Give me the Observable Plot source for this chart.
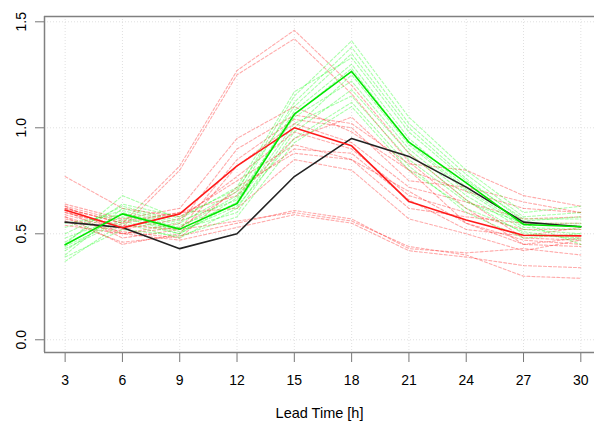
<!DOCTYPE html>
<html>
<head>
<meta charset="utf-8">
<script src="https://cdn.jsdelivr.net/npm/d3@7"></script>
<script src="https://cdn.jsdelivr.net/npm/@observablehq/plot@0.6"></script>
<style>
  html, body { margin: 0; padding: 0; background: #fff; }
  #chart svg { font-family: "Liberation Sans", Arial, sans-serif; }
  g[aria-label="x-axis tick"], g[aria-label="y-axis tick"] { stroke: #777; }
</style>
</head>
<body>
<div id="chart"></div>
<script>
// Lead times (x) and tick labels
const leadTimes = [3, 6, 9, 12, 15, 18, 21, 24, 27, 30];
const xTicks = [3, 6, 9, 12, 15, 18, 21, 24, 27, 30];
const yTicks = [0, 0.5, 1.0, 1.5];

// Solid lines
const blackLine = [0.555, 0.53, 0.43, 0.50, 0.77, 0.95, 0.865, 0.72, 0.555, 0.533];
const redLine   = [0.612, 0.528, 0.594, 0.82, 1.0, 0.915, 0.652, 0.565, 0.493, 0.49];
const greenLine = [0.448, 0.594, 0.522, 0.643, 1.064, 1.266, 0.932, 0.74, 0.544, 0.533];

// Dashed ensemble members (red)
const redMembers = [
  [0.62, 0.55, 0.82, 1.27, 1.46, 1.20, 0.88, 0.66, 0.48, 0.47],
  [0.60, 0.53, 0.80, 1.25, 1.42, 1.16, 0.84, 0.62, 0.45, 0.44],
  [0.77, 0.62, 0.58, 0.75, 0.92, 0.85, 0.70, 0.55, 0.47, 0.45],
  [0.64, 0.57, 0.62, 0.95, 1.10, 0.98, 0.80, 0.70, 0.62, 0.60],
  [0.63, 0.50, 0.55, 0.90, 1.06, 1.02, 0.83, 0.80, 0.68, 0.63],
  [0.61, 0.48, 0.52, 0.85, 1.04, 1.00, 0.75, 0.72, 0.65, 0.60],
  [0.58, 0.45, 0.50, 0.82, 1.02, 0.93, 0.72, 0.65, 0.57, 0.58],
  [0.59, 0.52, 0.57, 0.77, 0.98, 0.90, 0.68, 0.60, 0.52, 0.52],
  [0.57, 0.51, 0.48, 0.72, 0.88, 0.85, 0.62, 0.58, 0.55, 0.55],
  [0.62, 0.55, 0.60, 0.62, 0.85, 0.80, 0.57, 0.50, 0.42, 0.47],
  [0.56, 0.46, 0.49, 0.55, 0.61, 0.57, 0.43, 0.41, 0.43, 0.40],
  [0.54, 0.50, 0.47, 0.53, 0.59, 0.55, 0.42, 0.39, 0.35, 0.34],
  [0.60, 0.54, 0.52, 0.56, 0.60, 0.56, 0.44, 0.40, 0.30, 0.29],
  [0.63, 0.56, 0.60, 0.68, 0.95, 1.05, 0.80, 0.55, 0.45, 0.48],
  [0.58, 0.50, 0.53, 0.70, 0.90, 0.88, 0.66, 0.52, 0.49, 0.53]
];

// Dashed ensemble members (green)
const greenMembers = [
  [0.40, 0.62, 0.55, 0.70, 1.15, 1.41, 1.05, 0.80, 0.60, 0.63],
  [0.42, 0.60, 0.53, 0.68, 1.12, 1.38, 1.02, 0.78, 0.58, 0.60],
  [0.45, 0.68, 0.57, 0.72, 1.17, 1.33, 0.98, 0.75, 0.57, 0.57],
  [0.48, 0.58, 0.50, 0.65, 1.08, 1.30, 0.95, 0.72, 0.55, 0.55],
  [0.37, 0.55, 0.48, 0.62, 1.00, 1.25, 0.92, 0.70, 0.53, 0.52],
  [0.50, 0.63, 0.56, 0.66, 1.05, 1.22, 0.90, 0.68, 0.52, 0.50],
  [0.44, 0.57, 0.52, 0.60, 0.98, 1.18, 0.88, 0.66, 0.50, 0.48],
  [0.53, 0.61, 0.54, 0.64, 1.02, 1.15, 0.85, 0.65, 0.55, 0.45],
  [0.39, 0.52, 0.49, 0.58, 0.93, 1.10, 0.80, 0.62, 0.51, 0.47],
  [0.46, 0.64, 0.58, 0.71, 1.10, 1.35, 1.00, 0.76, 0.56, 0.58],
  [0.55, 0.59, 0.51, 0.63, 0.95, 1.12, 0.82, 0.60, 0.48, 0.50],
  [0.43, 0.56, 0.50, 0.67, 1.06, 1.28, 0.93, 0.71, 0.54, 0.54]
];

const xLabel = "Lead Time [h]";

// Tidy tables
const toRows = (members, group) => members.flatMap((vals, i) =>
  vals.map((v, j) => ({ t: leadTimes[j], v, id: group + i })));
const redRows = toRows(redMembers, "r");
const greenRows = toRows(greenMembers, "g");
const line = vals => vals.map((v, j) => ({ t: leadTimes[j], v }));

const xDomain = [1.92, 30.716];
const yDomain = [-0.06, 1.525];

const chart = Plot.plot({
  width: 594,
  height: 425,
  marginLeft: 44,
  marginRight: 0,
  marginTop: 16,
  marginBottom: 73,
  style: { fontSize: "14px", fontFamily: "Liberation Sans, Arial, sans-serif", color: "#000", background: "#fff" },
  x: { domain: xDomain, ticks: xTicks, tickSize: 10, tickPadding: 13, label: null, tickFormat: d => String(d) },
  y: { domain: yDomain, ticks: yTicks, tickSize: 9, tickPadding: 10, tickRotate: -90, label: null, tickFormat: d3.format(".1f") },
  marks: [
    // grid
    Plot.ruleX(xTicks, { stroke: "#e0e0e0", strokeDasharray: "1,2", strokeWidth: 1 }),
    Plot.ruleY(yTicks, { stroke: "#e0e0e0", strokeDasharray: "1,2", strokeWidth: 1 }),
    // box (top, left, bottom)
    Plot.ruleY([yDomain[1]], { stroke: "#808080", strokeWidth: 1.5 }),
    Plot.ruleY([yDomain[0]], { stroke: "#808080", strokeWidth: 1.5 }),
    Plot.ruleX([xDomain[0]], { stroke: "#808080", strokeWidth: 1.5 }),
    // ensemble members
    Plot.line(redRows, { x: "t", y: "v", z: "id", stroke: "#ff0000", strokeOpacity: 0.33, strokeWidth: 1.1, strokeDasharray: "3,2" }),
    Plot.line(greenRows, { x: "t", y: "v", z: "id", stroke: "#00ff00", strokeOpacity: 0.33, strokeWidth: 1.1, strokeDasharray: "3,2" }),
    // solid lines
    Plot.line(line(blackLine), { x: "t", y: "v", stroke: "#222", strokeWidth: 1.6 }),
    Plot.line(line(redLine), { x: "t", y: "v", stroke: "#ff1a1a", strokeWidth: 1.6 }),
    Plot.line(line(greenLine), { x: "t", y: "v", stroke: "#00e600", strokeWidth: 1.6 }),
    // x-axis title
    Plot.text([xLabel], { text: d => d, frameAnchor: "bottom", dy: 65, fontSize: 14.5, fill: "#000" })
  ]
});
document.getElementById("chart").appendChild(chart);
</script>
</body>
</html>
